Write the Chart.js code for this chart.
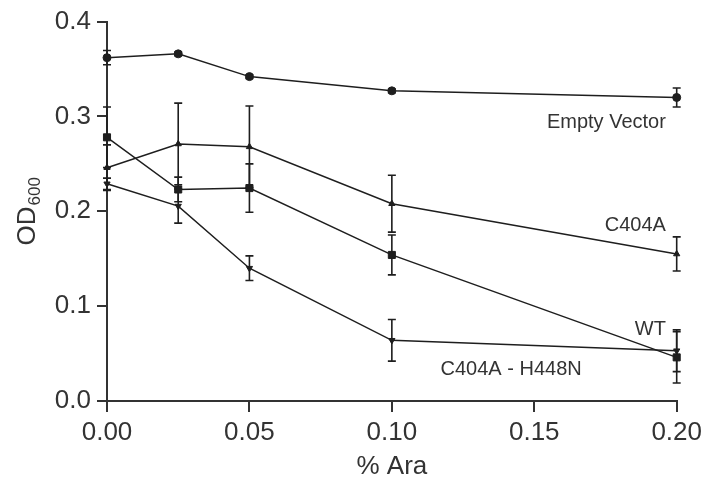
<!DOCTYPE html>
<html><head><meta charset="utf-8">
<script src="https://cdn.jsdelivr.net/npm/chart.js@4.4.1/dist/chart.umd.min.js"></script>
<style>html,body{margin:0;padding:0;background:#fff}</style>
</head><body>
<canvas id="c" width="707" height="482" style="width:707px;height:482px;display:block"></canvas>
<script>
// ---- data ----
const arabinose = [0, 0.025, 0.05, 0.1, 0.2];
const seriesNames = ['Empty Vector', 'C404A', 'WT', 'C404A - H448N'];
const emptyVector    = [0.362, 0.366, 0.342, 0.327, 0.320];
const emptyVectorErr = [0.0075, 0.002, 0.002, 0.002, 0.010];
const c404a          = [0.246, 0.271, 0.268, 0.208, 0.155];
const c404aErr       = [0.024, 0.043, 0.043, 0.030, 0.018];
const wt             = [0.278, 0.223, 0.2245, 0.154, 0.046];
const wtErr          = [0.032, 0.013, 0.0255, 0.021, 0.027];
const h448n          = [0.229, 0.2055, 0.140, 0.064, 0.053];
const h448nErr       = [0.006, 0.018, 0.013, 0.022, 0.022];
const xTicks = [0, 0.05, 0.10, 0.15, 0.20];
const yTicks = [0, 0.1, 0.2, 0.3, 0.4];

// ---- presentation ----
const INK = '#1e1e1e';
const TXT = '#333';
const FONT = "'Liberation Sans', Arial, Helvetica, sans-serif";
Chart.defaults.font.family = FONT;
Chart.defaults.color = TXT;

const values = [emptyVector, c404a, wt, h448n];
const errors = [emptyVectorErr, c404aErr, wtErr, h448nErr];
const markers = [
  {pointStyle: 'circle', radius: 4, rotation: 0},
  {pointStyle: 'triangle', radius: 3.6, rotation: 0},
  {pointStyle: 'rect', radius: 5, rotation: 0},
  {pointStyle: 'triangle', radius: 3.6, rotation: 180}
];
// series labels placed in data units
const seriesLabels = [
  {text: seriesNames[0], x: 0.1962, y: 0.288, align: 'right'},
  {text: seriesNames[1], x: 0.1962, y: 0.1793, align: 'right'},
  {text: seriesNames[2], x: 0.1962, y: 0.0695, align: 'right'},
  {text: seriesNames[3], x: 0.1171, y: 0.0274, align: 'left'}
];

const errorBars = {
  id: 'errorBars',
  beforeDatasetsDraw(chart) {
    const {ctx, scales: {x, y}} = chart;
    ctx.save();
    ctx.strokeStyle = INK;
    ctx.lineWidth = 1.6;
    values.forEach((vals, s) => {
      vals.forEach((v, i) => {
        const e = errors[s][i];
        if (!e) return;
        const px = x.getPixelForValue(arabinose[i]);
        const t = y.getPixelForValue(v + e);
        const b = y.getPixelForValue(v - e);
        const cw = 4;
        ctx.beginPath();
        ctx.moveTo(px, t); ctx.lineTo(px, b);
        ctx.moveTo(px - cw, t); ctx.lineTo(px + cw, t);
        ctx.moveTo(px - cw, b); ctx.lineTo(px + cw, b);
        ctx.stroke();
      });
    });
    ctx.restore();
  }
};

const textLayer = {
  id: 'textLayer',
  afterDraw(chart) {
    const {ctx, scales: {x, y}} = chart;
    ctx.save();
    ctx.fillStyle = TXT;
    ctx.font = '20px ' + FONT;
    ctx.textBaseline = 'alphabetic';
    seriesLabels.forEach(l => {
      ctx.textAlign = l.align;
      ctx.fillText(l.text, x.getPixelForValue(l.x), y.getPixelForValue(l.y));
    });
    // y-axis title: OD with subscript 600, rotated
    const main = 'OD', sub = '600';
    ctx.font = '26px ' + FONT;
    const wMain = ctx.measureText(main).width;
    ctx.font = '17px ' + FONT;
    const wSub = ctx.measureText(sub).width;
    const total = wMain + wSub + 1;
    const cy = (y.top + y.bottom) / 2 + 0;
    ctx.translate(35, cy + 0);
    ctx.rotate(-Math.PI / 2);
    ctx.textAlign = 'left';
    ctx.font = '26px ' + FONT;
    ctx.fillText(main, -total / 2, 0);
    ctx.font = '17px ' + FONT;
    ctx.fillText(sub, -total / 2 + wMain + 1, 5);
    ctx.restore();
  }
};

const datasets = values.map((vals, s) => ({
  label: seriesNames[s],
  data: arabinose.map((xv, i) => ({x: xv, y: vals[i]})),
  showLine: true,
  borderColor: INK,
  borderWidth: 1.5,
  backgroundColor: INK,
  pointBackgroundColor: INK,
  pointBorderColor: INK,
  pointBorderWidth: 1,
  pointStyle: markers[s].pointStyle,
  pointRadius: markers[s].radius,
  pointRotation: markers[s].rotation,
  clip: false,
  tension: 0
}));

new Chart(document.getElementById('c'), {
  type: 'scatter',
  data: {datasets},
  plugins: [errorBars, textLayer],
  options: {
    responsive: false,
    devicePixelRatio: 1,
    animation: false,
    layout: {padding: {top: 21, right: 26, left: 0, bottom: 0}},
    plugins: {legend: {display: false}, tooltip: {enabled: false}},
    scales: {
      x: {
        type: 'linear', min: 0, max: 0.2,
        afterBuildTicks(s) { s.ticks = xTicks.map(v => ({value: v})); },
        afterFit(s) { s.height = 81; },
        ticks: {callback: v => Number(v).toFixed(2), font: {size: 26}, color: TXT, padding: 5, maxRotation: 0},
        grid: {drawOnChartArea: false, drawTicks: true, tickLength: 11, color: '#333', lineWidth: 2},
        border: {color: '#333', width: 2},
        title: {display: true, text: '% Ara', font: {size: 26}, color: TXT, padding: {top: 0, bottom: 0}}
      },
      y: {
        type: 'linear', min: 0, max: 0.4,
        afterBuildTicks(s) { s.ticks = yTicks.map(v => ({value: v})); },
        afterFit(s) { s.width = 107; },
        ticks: {callback: v => Number(v).toFixed(1), font: {size: 26}, color: TXT, padding: 6},
        grid: {drawOnChartArea: false, drawTicks: true, tickLength: 10, color: '#333', lineWidth: 2},
        border: {color: '#333', width: 2}
      }
    }
  }
});
</script>
</body></html>
